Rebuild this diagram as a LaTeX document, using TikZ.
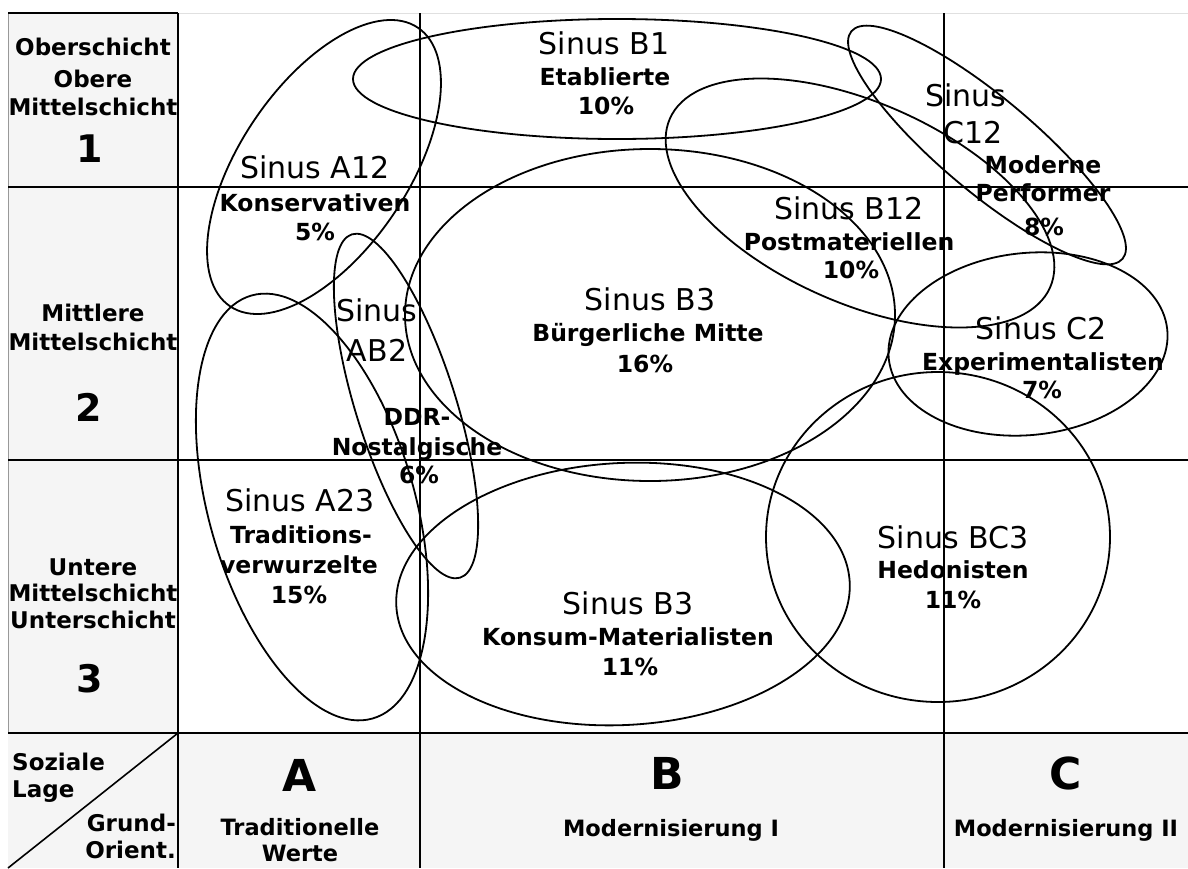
\documentclass[tikz,border=0pt]{standalone}
\usepackage{fontspec}
\setmainfont{DejaVu Sans}
\definecolor{cellgray}{HTML}{F5F5F5}
\begin{document}
\begin{tikzpicture}[x=1pt,y=-1pt,
  grid/.style={line width=1.4pt,black},
  frame/.style={line width=2.2pt,black},
  oval/.style={line width=1.8pt,black},
  ttl/.style={font=\fontsize{30}{34}\selectfont,inner sep=0pt,anchor=base},
  sub/.style={font=\fontsize{23.5}{26}\selectfont\bfseries,inner sep=0pt,anchor=base},
  rowlab/.style={font=\fontsize{23}{26}\selectfont\bfseries,inner sep=0pt,anchor=base},
  collab/.style={font=\fontsize{22.5}{26}\selectfont\bfseries,inner sep=0pt,anchor=base},
  rownum/.style={font=\fontsize{38}{40}\selectfont\bfseries,inner sep=0pt,anchor=base},
  colnum/.style={font=\fontsize{44}{46}\selectfont\bfseries,inner sep=0pt,anchor=base}]
\useasboundingbox (0,0) rectangle (1188,868);
\fill[white] (0,0) rectangle (1188,868);
% gray header cells
\fill[cellgray] (8,13) rectangle (178,733);
\fill[cellgray] (8,733) rectangle (1188,868);
% grid
\coordinate (tl) at (8,13);
\coordinate (tc) at (178,13);
\coordinate (bl) at (8,868);
\coordinate (bc) at (178,868);
\coordinate (va) at (420,13);
\coordinate (vab) at (420,868);
\coordinate (vc) at (944,13);
\coordinate (vcb) at (944,868);
\coordinate (h1l) at (8,187);
\coordinate (h1m) at (178,187);
\coordinate (h1r) at (1188,187);
\coordinate (h2l) at (8,460);
\coordinate (h2m) at (178,460);
\coordinate (h2r) at (1188,460);
\coordinate (h3l) at (8,733);
\coordinate (h3m) at (178,733);
\coordinate (h3r) at (1188,733);
\coordinate (tr) at (1188,13);
\draw[line width=0.8pt,black!12] (tc) -- (tr);
\draw[line width=1pt,black!40] (tl) -- (h3l);
\draw[grid] (va) -- (vab);
\draw[grid] (vc) -- (vcb);
\draw[grid] (h1l) -- (h1r);
\draw[grid] (h2l) -- (h2r);
\draw[frame] (tl) -- (tc);
\draw[frame] (tc) -- (bc);
\draw[frame] (h3l) -- (h3r);
\draw[frame] (h1l) -- (h1m);
\draw[frame] (h2l) -- (h2m);
\draw[line width=1.6pt] (h3m) -- (bl);
% ellipses
\draw[oval] (617,79) ellipse [x radius=264, y radius=60];
\draw[oval, rotate around={56:(324,167)}] (324,167) ellipse [x radius=168, y radius=84];
\draw[oval, rotate around={17.5:(406,406)}] (406,406) ellipse [x radius=50, y radius=180];
\draw[oval, rotate around={16:(312,507)}] (312,507) ellipse [x radius=103, y radius=220];
\draw[oval] (650,315) ellipse [x radius=245, y radius=166];
\draw[oval, rotate around={-24:(860,203)}] (860,203) ellipse [x radius=208, y radius=100];
\draw[oval, rotate around={-40:(987,145)}] (987,145) ellipse [x radius=177, y radius=47];
\draw[oval, rotate around={6:(1028,344)}] (1028,344) ellipse [x radius=140, y radius=91];
\draw[oval] (938,537) ellipse [x radius=172, y radius=165];
\draw[oval, rotate around={3:(623,594)}] (623,594) ellipse [x radius=227, y radius=131];
% ellipse labels
\node[ttl] (b1t) at (604,54) {Sinus B1};
\node[sub] (b1s) at (605,85) {Etablierte};
\node[sub] (b1p) at (606,114) {10\%};
\node[ttl] (a12t) at (315,178) {Sinus A12};
\node[sub] (a12s) at (315,211) {Konservativen};
\node[sub] (a12p) at (315,240) {5\%};
\node[ttl] (ab2t) at (377,321) {Sinus};
\node[ttl] (ab2u) at (377,361) {AB2};
\node[sub] (ab2s) at (417,425) {DDR-};
\node[sub] (ab2v) at (417,455) {Nostalgische};
\node[sub] (ab2p) at (419,483) {6\%};
\node[ttl] (a23t) at (300,511) {Sinus A23};
\node[sub] (a23s) at (301,543) {Traditions-};
\node[sub] (a23v) at (299,573) {verwurzelte};
\node[sub] (a23p) at (299,603) {15\%};
\node[ttl] (b3t) at (650,310) {Sinus B3};
\node[sub] (b3s) at (648,341) {Bürgerliche Mitte};
\node[sub] (b3p) at (645,372) {16\%};
\node[ttl] (b12t) at (849,219) {Sinus B12};
\node[sub] (b12s) at (849,250) {Postmateriellen};
\node[sub] (b12p) at (851,278) {10\%};
\node[ttl] (c12t) at (966,106) {Sinus};
\node[ttl] (c12u) at (973,143) {C12};
\node[sub] (c12s) at (1043,173) {Moderne};
\node[sub] (c12v) at (1043,201) {Performer};
\node[sub] (c12p) at (1044,235) {8\%};
\node[ttl] (c2t) at (1041,339) {Sinus C2};
\node[sub] (c2s) at (1043,370) {Experimentalisten};
\node[sub] (c2p) at (1042,398) {7\%};
\node[ttl] (bc3t) at (953,548) {Sinus BC3};
\node[sub] (bc3s) at (953,578) {Hedonisten};
\node[sub] (bc3p) at (953,608) {11\%};
\node[ttl] (b3kt) at (628,614) {Sinus B3};
\node[sub] (b3ks) at (628,645) {Konsum-Materialisten};
\node[sub] (b3kp) at (630,675) {11\%};
% row headers
\node[rowlab] (r1a) at (93,55) {Oberschicht};
\node[rowlab] (r1b) at (93,87) {Obere};
\node[rowlab] (r1c) at (93,115) {Mittelschicht};
\node[rownum] (r1n) at (90,162) {1};
\node[rowlab] (r2a) at (93,321) {Mittlere};
\node[rowlab] (r2b) at (93,350) {Mittelschicht};
\node[rownum] (r2n) at (89,421) {2};
\node[rowlab] (r3a) at (93,575) {Untere};
\node[rowlab] (r3b) at (93,601) {Mittelschicht};
\node[rowlab] (r3c) at (93,628) {Unterschicht};
\node[rownum] (r3n) at (90,692) {3};
% corner cell
\node[rowlab,anchor=base west] (soz) at (12,770) {Soziale};
\node[rowlab,anchor=base west] (lage) at (12,797) {Lage};
\node[rowlab,anchor=base east] (grund) at (176,831) {Grund-};
\node[rowlab,anchor=base east] (orient) at (176,858) {Orient.};
% column headers
\node[colnum] (ca) at (300,791) {A};
\node[collab] (cat) at (300,835) {Traditionelle};
\node[collab] (caw) at (300,861) {Werte};
\node[colnum] (cb) at (667,789) {B};
\node[collab] (cbt) at (671,836) {Modernisierung I};
\node[colnum] (cc) at (1066,789) {C};
\node[collab] (cct) at (1066,836) {Modernisierung II};
\end{tikzpicture}
\end{document}
